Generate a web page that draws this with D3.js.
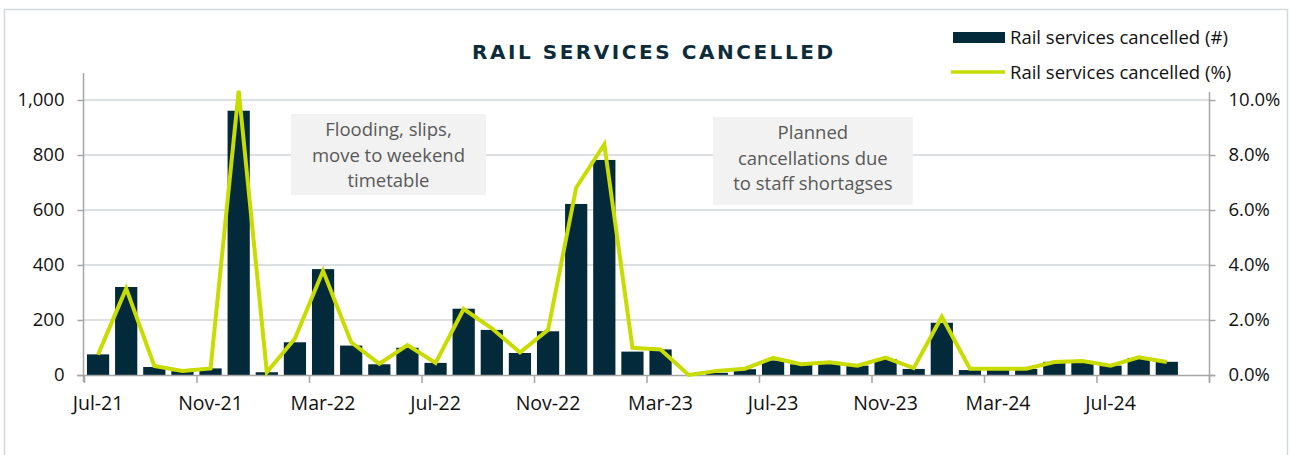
<!DOCTYPE html>
<html lang="en">
<head>
<meta charset="UTF-8">
<title>Rail services cancelled</title>
<style>
    body { margin: 0; background: #fff; }
    text { font-family: "Open Sans", "Noto Sans", sans-serif; }
</style>
</head>
<body>
<div id="chart"></div>
<script src="https://cdn.jsdelivr.net/npm/d3@7"></script>
<script>
// months on the axis (Oct-24 has no data)
var months = ["Jul-21","Aug-21","Sep-21","Oct-21","Nov-21","Dec-21","Jan-22","Feb-22","Mar-22","Apr-22",
    "May-22","Jun-22","Jul-22","Aug-22","Sep-22","Oct-22","Nov-22","Dec-22","Jan-23","Feb-23",
    "Mar-23","Apr-23","May-23","Jun-23","Jul-23","Aug-23","Sep-23","Oct-23","Nov-23","Dec-23",
    "Jan-24","Feb-24","Mar-24","Apr-24","May-24","Jun-24","Jul-24","Aug-24","Sep-24","Oct-24"];
// Rail services cancelled (#)
var cancelledCount = [75, 320, 29, 14, 24, 961, 10, 119, 385, 107,
    39, 99, 44, 241, 164, 80, 159, 622, 782, 85,
    93, 0, 8, 21, 53, 39, 42, 34, 58, 22,
    190, 18, 21, 22, 48, 51, 34, 62, 48, null];
// Rail services cancelled (%)
var cancelledPct = [0.74, 3.15, 0.33, 0.15, 0.24, 10.34, 0.10, 1.33, 3.79, 1.19,
    0.41, 1.09, 0.44, 2.40, 1.70, 0.82, 1.64, 6.81, 8.39, 0.99,
    0.93, 0.00, 0.15, 0.23, 0.62, 0.39, 0.46, 0.34, 0.63, 0.25,
    2.12, 0.23, 0.23, 0.23, 0.47, 0.51, 0.34, 0.64, 0.47, null];
var leftTicks = [0, 200, 400, 600, 800, 1000];
var rightTicks = [0, 2, 4, 6, 8, 10];
// annotation text boxes, spanning month positions (from, to)
var notes = [
    {from: 7.36, to: 14.29, top: 114, hgt: 81, lines: ["Flooding, slips,", "move to weekend", "timetable"]},
    {from: 22.36, to: 29.47, top: 117, hgt: 88, lines: ["Planned", "cancellations due", "to staff shortagses"]}
];

var w = 1291, h = 455;
var barCol = "#022a3a", lineCol = "#c9dc00";
var svg = d3.select("#chart").append("svg").attr("width", w).attr("height", h);

// outer frame
svg.append("rect").attr("x", 4.5).attr("y", 9.5).attr("width", 1283).attr("height", 460)
    .attr("fill", "none").attr("stroke", "#d3d8db").attr("stroke-width", 1.5);

var x = d3.scaleBand().domain(months).range([84, 1209]).paddingInner(0).paddingOuter(0);
var xPos = d3.scaleLinear().domain([0, months.length]).range([84, 1209]);
var yL = d3.scaleLinear().domain([0, 1000]).range([375, 100]);
var yR = d3.scaleLinear().domain([0, 10]).range([375, 100]);
var bw = x.bandwidth() * 0.79;

// gridlines
svg.append("g").selectAll("line").data(leftTicks.slice(1)).enter().append("line")
    .attr("x1", 84).attr("x2", 1209)
    .attr("y1", function (d) { return yL(d); }).attr("y2", function (d) { return yL(d); })
    .attr("stroke", "#d0d6da").attr("stroke-width", 1.5);

// left axis
var gl = svg.append("g").attr("transform", "translate(83.5,0)");
gl.call(d3.axisLeft(yL).tickValues(leftTicks).tickSize(6).tickPadding(13)
    .tickFormat(d3.format(",")));
gl.select(".domain").attr("d", "M0,73V382");
// right axis
var gr = svg.append("g").attr("transform", "translate(1209.5,0)");
gr.call(d3.axisRight(yR).tickValues(rightTicks).tickSize(6).tickPadding(13)
    .tickFormat(function (d) { return d.toFixed(1) + "%"; }));
gr.select(".domain").attr("d", "M0,92V382");
[gl, gr].forEach(function (g) {
    g.select(".domain").attr("stroke", "#a6a6a6").attr("stroke-width", 1.5);
    g.selectAll(".tick line").attr("stroke", "#a6a6a6").attr("stroke-width", 1.5);
    g.selectAll(".tick text").attr("font-size", "18.5px").attr("fill", "#111")
        .attr("font-family", "'Open Sans', sans-serif");
});

// bars
svg.append("g").selectAll("rect").data(months.filter(function (m, i) { return cancelledCount[i] != null; }))
    .enter().append("rect")
    .attr("x", function (d) { return x(d) + (x.bandwidth() - bw) / 2; })
    .attr("y", function (d) { return yL(cancelledCount[months.indexOf(d)]); })
    .attr("width", bw)
    .attr("height", function (d) { return 375 - yL(cancelledCount[months.indexOf(d)]); })
    .attr("fill", barCol);

// x axis line + ticks every 4 months at band edges
var gx = svg.append("g");
gx.append("line").attr("x1", 77).attr("x2", 1215).attr("y1", 375.5).attr("y2", 375.5)
    .attr("stroke", "#a6a6a6").attr("stroke-width", 1.5);
var tickMonths = months.filter(function (m, i) { return i % 4 === 0; });
gx.selectAll(".xt").data(tickMonths.concat(["end"])).enter().append("line")
    .attr("x1", function (d) { return d === "end" ? 1209.5 : x(d) + 0.5; })
    .attr("x2", function (d) { return d === "end" ? 1209.5 : x(d) + 0.5; })
    .attr("y1", 375).attr("y2", 383)
    .attr("stroke", "#a6a6a6").attr("stroke-width", 1.5);
gx.selectAll("text").data(tickMonths.slice(0, 10)).enter().append("text")
    .attr("x", function (d) { return x(d) + x.bandwidth() / 2; })
    .attr("y", 410)
    .attr("text-anchor", "middle").attr("font-size", "19.5px").attr("fill", "#111")
    .text(function (d) { return d; });

// line
var line = d3.line()
    .defined(function (d, i) { return cancelledPct[i] != null; })
    .x(function (d) { return x(d) + x.bandwidth() / 2; })
    .y(function (d, i) { return yR(cancelledPct[i]); });
svg.append("path").datum(months).attr("d", line)
    .attr("fill", "none").attr("stroke", lineCol).attr("stroke-width", 4)
    .attr("stroke-linejoin", "miter");

// annotation boxes
notes.forEach(function (n) {
    var x0 = xPos(n.from), x1 = xPos(n.to), cx = (x0 + x1) / 2;
    var g = svg.append("g");
    g.append("rect").attr("x", x0).attr("y", n.top).attr("width", x1 - x0).attr("height", n.hgt)
        .attr("fill", "#f2f2f2");
    g.selectAll("text").data(n.lines).enter().append("text")
        .attr("x", cx).attr("y", function (d, i) { return n.top + 22 + i * 25.5; })
        .attr("text-anchor", "middle").attr("font-size", "18.5px").attr("fill", "#595959")
        .text(function (d) { return d; });
});

// title
svg.append("text").attr("x", 472).attr("y", 59)
    .style("font-family", "'DejaVu Sans', sans-serif").style("font-weight", 700).style("font-size", "20px")
    .attr("fill", "#0d2c3b").attr("textLength", 361).attr("lengthAdjust", "spacing")
    .text("RAIL SERVICES CANCELLED");

// legend
var lg = svg.append("g");
lg.append("rect").attr("x", 953).attr("y", 32).attr("width", 52).attr("height", 11).attr("fill", barCol);
lg.append("line").attr("x1", 951).attr("x2", 1005).attr("y1", 72).attr("y2", 72)
    .attr("stroke", lineCol).attr("stroke-width", 3.5);
lg.selectAll("text").data(["Rail services cancelled (#)", "Rail services cancelled (%)"]).enter()
    .append("text").attr("x", 1010).attr("y", function (d, i) { return 44 + i * 35; })
    .attr("font-size", "18.5px").attr("fill", "#111")
    .text(function (d) { return d; });
</script>
</body>
</html>
